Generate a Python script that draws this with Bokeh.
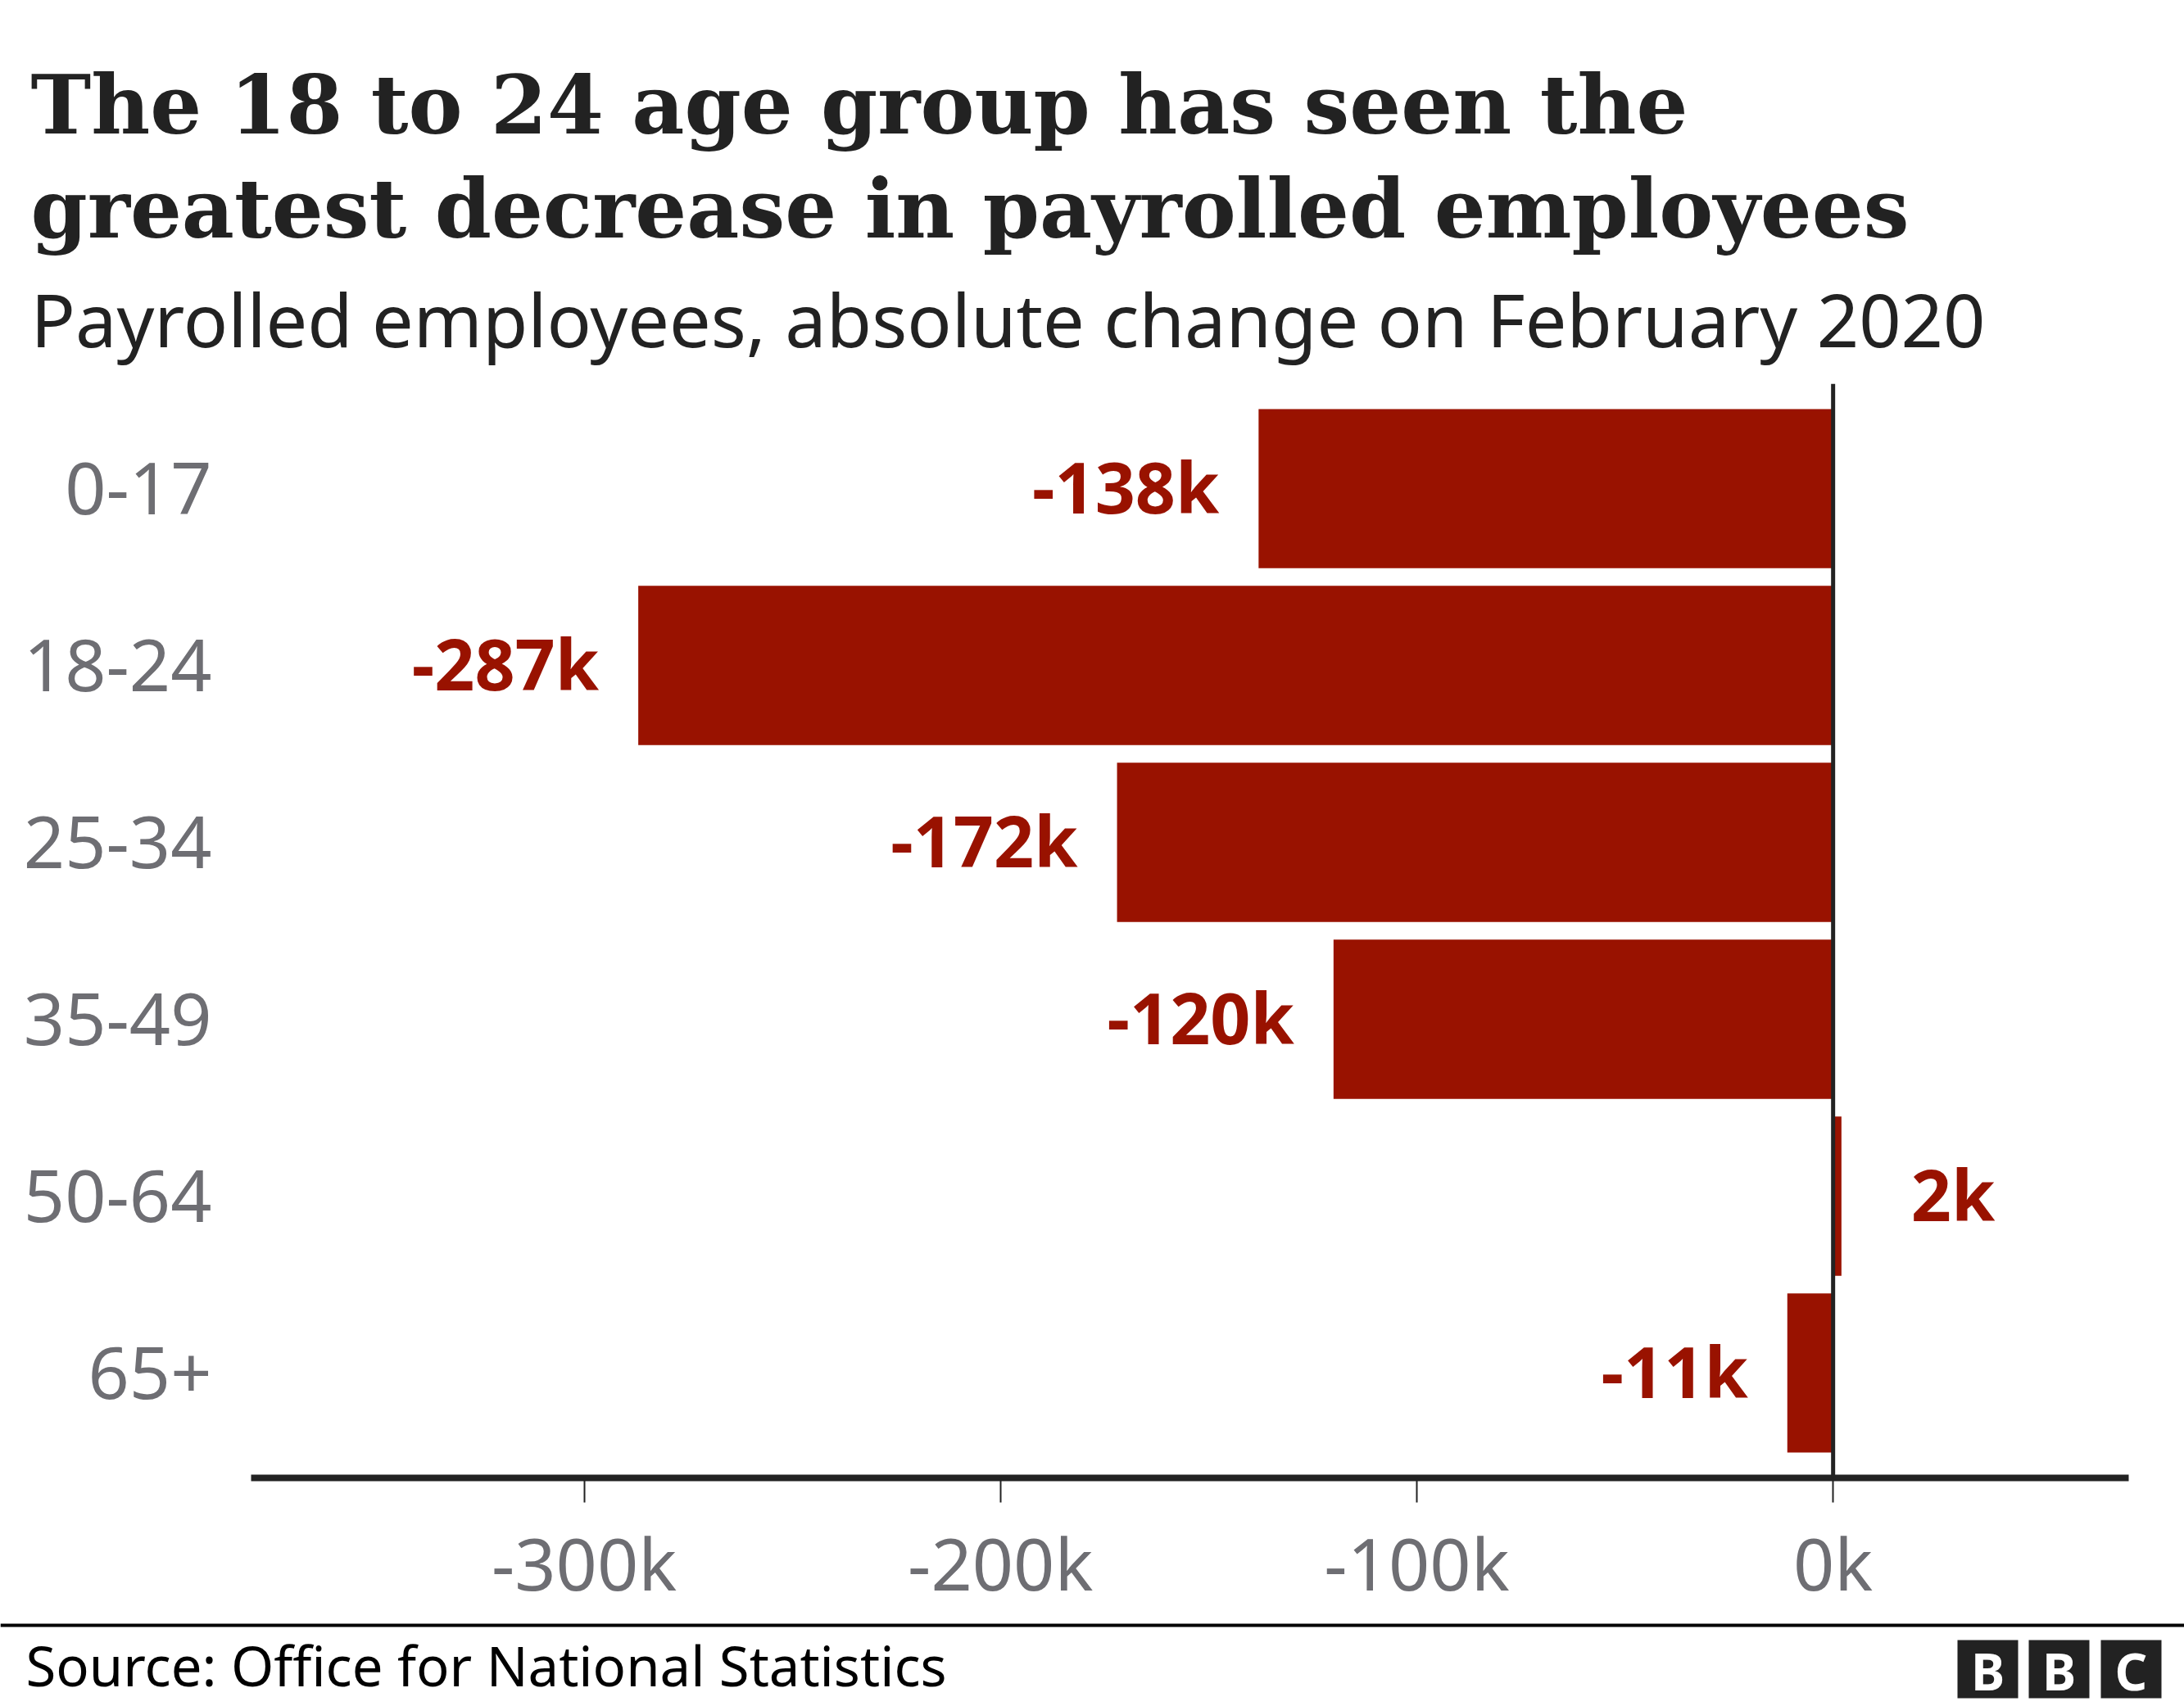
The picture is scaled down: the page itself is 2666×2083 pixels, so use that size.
from bokeh.plotting import figure
from bokeh.models import Range1d, FactorRange, FixedTicker, Span, ColumnDataSource
from bokeh.layouts import column
from bokeh.embed import file_html
from bokeh.resources import INLINE
from bokeh.core.properties import value

# ---- data ----
categories = ["0-17", "18-24", "25-34", "35-49", "50-64", "65+"]
change_k = [-138, -287, -172, -120, 2, -11]
value_labels = ["-138k", "-287k", "-172k", "-120k", "2k", "-11k"]
tick_values = [-300, -200, -100, 0]
tick_labels = ["-300k", "-200k", "-100k", "0k"]
title_lines = ["The 18 to 24 age group has seen the",
               "greatest decrease in payrolled employees"]
subtitle = "Payrolled employees, absolute change on February 2020"
source_text = "Source: Office for National Statistics"
logo_letters = ["B", "B", "C"]

# ---- layout constants ----
W, H = 2666, 2083
HEADER_H = 468
FOOTER_H = 105
MAIN_H = H - HEADER_H - FOOTER_H
BAR_COLOR = "#991200"
DARK = "#222222"
GREY = "#6e6e73"
SANS = "Noto Sans"

# ---- header ----
header = figure(width=W, height=HEADER_H, x_range=Range1d(0, W), y_range=Range1d(HEADER_H, 0),
                output_backend="svg", toolbar_location=None, x_axis_type=None, y_axis_type=None,
                min_border=0, outline_line_color=None, frame_align=False)
header.text(x=[37, 37], y=[127, 254], text=title_lines, text_font=value("DejaVu Serif"),
            text_font_style="bold", text_font_size="99px", text_color=DARK,
            text_baseline="alphabetic", text_align="left")
header.text(x=[37], y=[388], text=[subtitle], text_font=value(SANS), text_font_size="90px",
            text_color=DARK, text_baseline="alphabetic", text_align="left")

# ---- main chart ----
src = ColumnDataSource(dict(
    cat=categories,
    val=change_k,
    label=value_labels,
    align=["right" if v < 0 else "left" for v in change_k],
    off=[-48 if v < 0 else 85 for v in change_k],
))

p = figure(width=W, height=MAIN_H,
           y_range=FactorRange(factors=list(reversed(categories)), range_padding=0.031),
           x_range=Range1d(-380, 71),
           output_backend="svg", toolbar_location=None,
           min_border_left=306, min_border_right=68, min_border_top=0, min_border_bottom=174,
           outline_line_color=None, frame_align=False)
p.xgrid.visible = False
p.ygrid.visible = False

p.hbar(y="cat", left=0, right="val", height=0.9, source=src, fill_color=BAR_COLOR, line_color=None)
p.add_layout(Span(location=0, dimension="height", line_color=DARK, line_width=5))
p.text(x="val", y="cat", text="label", x_offset="off", text_align="align", text_baseline="middle",
       y_offset=-3, source=src, text_font=value(SANS), text_font_style="bold",
       text_font_size="86px", text_color=BAR_COLOR)

xa = p.xaxis[0]
xa.ticker = FixedTicker(ticks=tick_values)
xa.major_label_overrides = {v: t for v, t in zip(tick_values, tick_labels)}
xa.axis_line_width = 8
xa.axis_line_color = DARK
xa.major_tick_line_width = 2
xa.major_tick_line_color = DARK
xa.major_tick_out = 30
xa.major_tick_in = 0
xa.minor_tick_line_color = None
xa.major_label_standoff = 13
xa.major_label_text_font = SANS
xa.major_label_text_font_size = "88px"
xa.major_label_text_color = GREY

ya = p.yaxis[0]
ya.axis_line_color = None
ya.major_tick_line_color = None
ya.minor_tick_line_color = None
ya.major_label_standoff = 42
ya.major_label_text_font = SANS
ya.major_label_text_font_size = "88px"
ya.major_label_text_color = GREY

# ---- footer ----
footer = figure(width=W, height=FOOTER_H, x_range=Range1d(0, W), y_range=Range1d(FOOTER_H, 0),
                output_backend="svg", toolbar_location=None, x_axis_type=None, y_axis_type=None,
                min_border=0, outline_line_color=None, frame_align=False)
footer.quad(left=[0], right=[W], top=[4], bottom=[8], fill_color="#000000", line_color=None)
footer.text(x=[31], y=[54], text=[source_text], text_font=value(SANS), text_font_size="67px",
            text_color="#000000", text_baseline="alphabetic", text_align="left")
box_left = [2389, 2476, 2564]
box_w = 74
footer.quad(left=box_left, right=[b + box_w for b in box_left], top=[24] * 3, bottom=[95] * 3,
            fill_color="#222222", line_color=None)
footer.text(x=[b + box_w / 2 for b in box_left], y=[61] * 3, text=logo_letters,
            text_font=value(SANS), text_font_style="bold", text_font_size="62px",
            text_color="#ffffff", text_align="center", text_baseline="middle")

layout = column(header, p, footer, spacing=0)
open("out.html", "w").write(file_html(layout, INLINE))
